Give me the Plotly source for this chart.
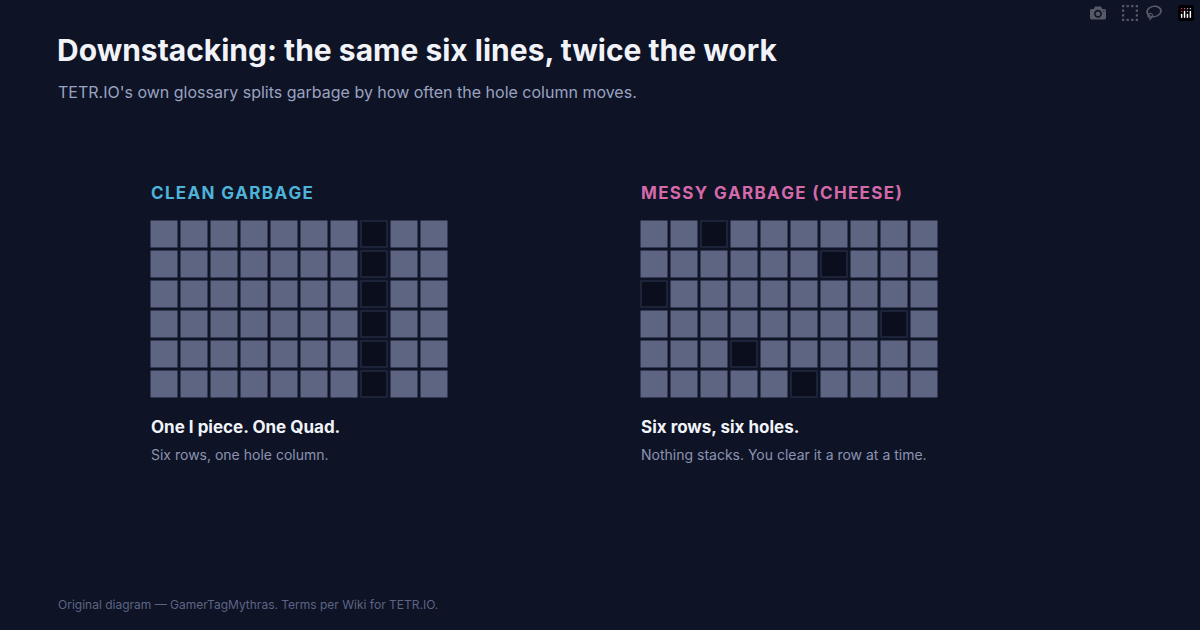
import plotly.graph_objects as go

cols = list(range(10))
rows = list(range(6))
clean_holes = [7, 7, 7, 7, 7, 7]          # hole column per row
messy_holes = [2, 6, 0, 8, 3, 5]

BG = "#0e1326"; CELL = "#5d6583"; HOLE = "#0b0f1d"; HOLE_LINE = "#232a40"
W, H = 1200, 630

fig = go.Figure()

def add_grid(holes, xa, ya):
    fx, fy, hx, hy = [], [], [], []
    for r in rows:
        for c in cols:
            if c == holes[r]:
                hx.append(c); hy.append(r)
            else:
                fx.append(c); fy.append(r)
    fig.add_trace(go.Scatter(x=fx, y=fy, mode="markers", xaxis=xa, yaxis=ya, hoverinfo="skip",
                             marker=dict(symbol="square", size=27, color=CELL, line=dict(width=0))))
    fig.add_trace(go.Scatter(x=hx, y=hy, mode="markers", xaxis=xa, yaxis=ya, hoverinfo="skip",
                             marker=dict(symbol="square", size=26, color=HOLE, line=dict(width=1.5, color=HOLE_LINE))))

add_grid(clean_holes, "x", "y")
add_grid(messy_holes, "x2", "y2")

ydom = [1 - 399/H, 1 - 219/H]
ax = dict(range=[-0.5, 9.5], visible=False, fixedrange=True)
ay = dict(range=[5.5, -0.5], visible=False, fixedrange=True, domain=ydom)
fig.update_layout(
    width=W, height=H, paper_bgcolor=BG, plot_bgcolor=BG, showlegend=False,
    margin=dict(l=0, r=0, t=0, b=0),
    xaxis=dict(ax, domain=[149/W, 449/W]), yaxis=dict(ay, anchor="x"),
    xaxis2=dict(ax, domain=[639/W, 939/W]), yaxis2=dict(ay, anchor="x2"),
    font=dict(family="Inter, Liberation Sans, sans-serif"),
)

def txt(x, y, s, size, color, bold=False):
    fig.add_annotation(x=x/W, y=1 - y/H, xref="paper", yref="paper", xanchor="left", yanchor="middle",
                       showarrow=False, text=f"<b>{s}</b>" if bold else s,
                       font=dict(size=size, color=color))

def spaced(s):
    return "\u200a".join(s)

txt(55, 50, "Downstacking: the same six lines, twice the work", 30, "#f1f3f8", True)
txt(56, 92, "TETR.IO's own glossary splits garbage by how often the hole column moves.", 16, "#9aa3c0")
txt(149, 193, spaced("CLEAN GARBAGE"), 17, "#4fb3d9", True)
txt(639, 193, spaced("MESSY GARBAGE (CHEESE)"), 17, "#d46aaa", True)
txt(149, 427, "One I piece. One Quad.", 17, "#f1f3f8", True)
txt(149, 454, "Six rows, one hole column.", 14, "#8b93b0")
txt(639, 427, "Six rows, six holes.", 17, "#f1f3f8", True)
txt(639, 454, "Nothing stacks. You clear it a row at a time.", 14, "#8b93b0")
txt(56, 604, "Original diagram — GamerTagMythras. Terms per Wiki for TETR.IO.", 12, "#5d6583")

fig.write_html("out.html", post_script="document.body.style.margin='0';document.body.style.background='#0e1326';")
